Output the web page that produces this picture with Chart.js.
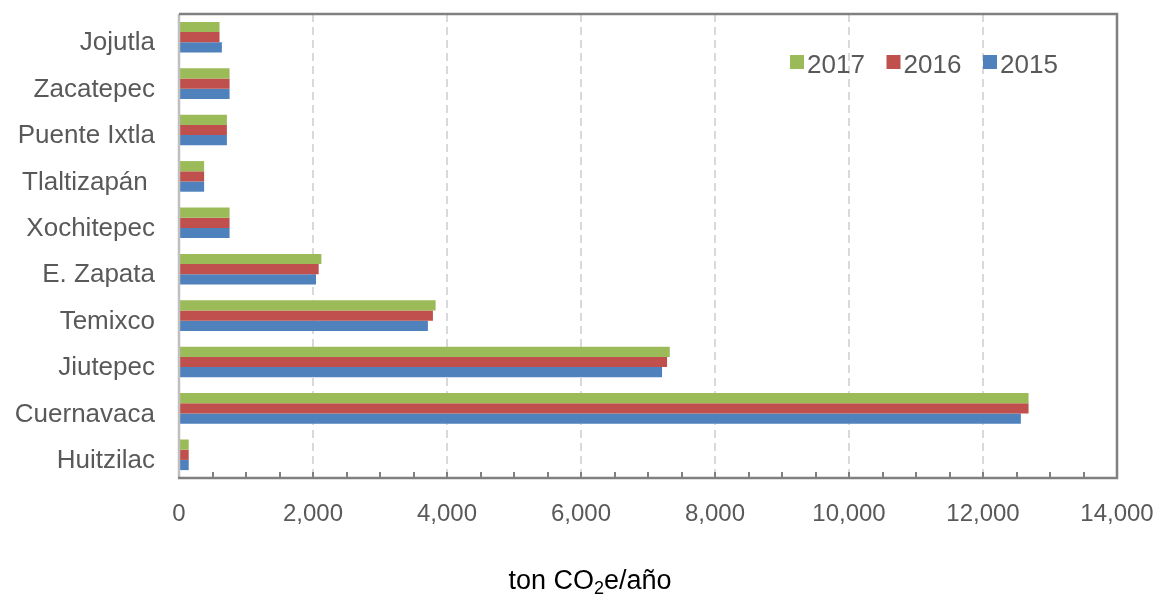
<!DOCTYPE html>
<html>
<head>
<meta charset="utf-8">
<script src="https://cdn.jsdelivr.net/npm/chart.js@4/dist/chart.umd.min.js"></script>
<style>
  html, body { margin: 0; padding: 0; background: #ffffff; }
  #wrap { width: 1158px; height: 599px; position: relative; }
</style>
</head>
<body>
<div id="wrap"><canvas id="chart" width="1158" height="599"></canvas></div>
<script>
// Municipalities, top to bottom
const categories = ['Jojutla', 'Zacatepec', 'Puente Ixtla', 'Tlaltizapán ', 'Xochitepec', 'E. Zapata', 'Temixco', 'Jiutepec', 'Cuernavaca', 'Huitzilac'];

// Emissions, ton CO2e per year
const values2017 = [605, 755, 715, 375, 755, 2125, 3830, 7325, 12680, 145];
const values2016 = [605, 755, 715, 375, 755, 2085, 3790, 7285, 12680, 145];
const values2015 = [640, 755, 715, 375, 755, 2045, 3715, 7210, 12565, 145];

const seriesLabels = ['2017', '2016', '2015'];
const seriesColors = ['#9BBB59', '#C0504D', '#4F81BD'];

// Axis ticks
const xMin = 0;
const xMax = 14000;
const xMajorStep = 2000;
const xMinorStep = 500;
const axisTitle = { before: 'ton CO', sub: '2', after: 'e/año' };

const textColor = '#595959';
const fontFamily = 'Arial, "Liberation Sans", sans-serif';

// Frame around the plot area plus the small inner tick marks on the bottom edge
const framePlugin = {
  id: 'frame',
  afterDatasetsDraw(chart) {
    const { ctx, chartArea: a, scales } = chart;
    ctx.save();
    ctx.lineCap = 'butt';
    // minor ticks pointing into the plot
    ctx.strokeStyle = '#808080';
    ctx.lineWidth = 2;
    for (let v = xMin + xMinorStep; v < xMax; v += xMinorStep) {
      const x = Math.round(scales.x.getPixelForValue(v));
      ctx.beginPath();
      ctx.moveTo(x, a.bottom);
      ctx.lineTo(x, a.bottom - 6);
      ctx.stroke();
    }
    // left edge (category axis)
    ctx.strokeStyle = '#BFBFBF';
    ctx.lineWidth = 2.5;
    ctx.beginPath();
    ctx.moveTo(a.left, a.top);
    ctx.lineTo(a.left, a.bottom);
    ctx.stroke();
    // top, right and bottom edges
    ctx.strokeStyle = '#808080';
    ctx.lineWidth = 2.5;
    ctx.beginPath();
    ctx.moveTo(a.left, a.top);
    ctx.lineTo(a.right, a.top);
    ctx.lineTo(a.right, a.bottom);
    ctx.lineTo(a.left - 1, a.bottom);
    ctx.stroke();
    ctx.restore();
  }
};

// Legend inside the plot, top right
const legendPlugin = {
  id: 'insideLegend',
  afterDraw(chart) {
    const { ctx } = chart;
    const startX = 790;
    const itemGap = 96.5;
    const boxSize = 14;
    const cy = 64;
    ctx.save();
    ctx.font = '26px ' + fontFamily;
    ctx.textBaseline = 'middle';
    ctx.textAlign = 'left';
    chart.data.datasets.forEach((ds, i) => {
      const x = startX + i * itemGap;
      ctx.fillStyle = ds.backgroundColor;
      ctx.fillRect(x, cy - boxSize / 2 - 2, boxSize, boxSize);
      ctx.fillStyle = textColor;
      ctx.fillText(ds.label, x + boxSize + 3, cy + 2);
    });
    ctx.restore();
  }
};

// Axis title with subscript
const axisTitlePlugin = {
  id: 'axisTitle',
  afterDraw(chart) {
    const { ctx } = chart;
    const mainFont = '27px ' + fontFamily;
    const subFont = '18px ' + fontFamily;
    ctx.save();
    ctx.fillStyle = '#000000';
    ctx.textBaseline = 'alphabetic';
    ctx.textAlign = 'left';
    ctx.font = mainFont;
    const w1 = ctx.measureText(axisTitle.before).width;
    const w3 = ctx.measureText(axisTitle.after).width;
    ctx.font = subFont;
    const w2 = ctx.measureText(axisTitle.sub).width;
    const total = w1 + w2 + w3;
    const cx = 590;
    const baseY = 589;
    let x = cx - total / 2;
    ctx.font = mainFont;
    ctx.fillText(axisTitle.before, x, baseY);
    x += w1;
    ctx.font = subFont;
    ctx.fillText(axisTitle.sub, x, baseY + 5);
    x += w2;
    ctx.font = mainFont;
    ctx.fillText(axisTitle.after, x, baseY);
    ctx.restore();
  }
};

const seriesValues = [values2017, values2016, values2015];

new Chart(document.getElementById('chart'), {
  type: 'bar',
  data: {
    labels: categories,
    datasets: seriesLabels.map((label, i) => ({
      label: label,
      data: seriesValues[i],
      backgroundColor: seriesColors[i],
      borderWidth: 0,
      barPercentage: 1.0,
      categoryPercentage: 0.66
    }))
  },
  options: {
    indexAxis: 'y',
    responsive: false,
    animation: false,
    devicePixelRatio: 1,
    layout: { padding: { top: 14, right: 41, bottom: 0, left: 0 } },
    plugins: {
      legend: { display: false },
      tooltip: { enabled: false },
      title: { display: false }
    },
    scales: {
      x: {
        type: 'linear',
        min: xMin,
        max: xMax,
        afterFit(scale) {
          scale.height = 599 - 478;
          scale.paddingLeft = 0;
          scale.paddingRight = 0;
          scale.paddingTop = 0;
          scale.paddingBottom = 0;
        },
        ticks: {
          stepSize: xMinorStep,
          autoSkip: false,
          maxRotation: 0,
          padding: 22,
          color: textColor,
          font: { family: fontFamily, size: 24 },
          callback: (v) => (v % xMajorStep === 0 ? Number(v).toLocaleString('en-US') : '')
        },
        grid: {
          drawTicks: false,
          lineWidth: 2,
          color: (ctx) => {
            const v = ctx.tick ? ctx.tick.value : null;
            if (v === null || v === xMin || v === xMax || v % xMajorStep !== 0) return 'rgba(0,0,0,0)';
            return '#D9D9D9';
          }
        },
        border: { display: false, dash: [8, 5] }
      },
      y: {
        type: 'category',
        afterFit(scale) {
          scale.width = 179;
          scale.paddingLeft = 0;
          scale.paddingRight = 0;
          scale.paddingTop = 0;
          scale.paddingBottom = 0;
        },
        ticks: {
          padding: 24,
          labelOffset: 6,
          color: textColor,
          font: { family: fontFamily, size: 26 }
        },
        grid: { display: false, drawTicks: false },
        border: { display: false }
      }
    }
  },
  plugins: [framePlugin, legendPlugin, axisTitlePlugin]
});
</script>
</body>
</html>
